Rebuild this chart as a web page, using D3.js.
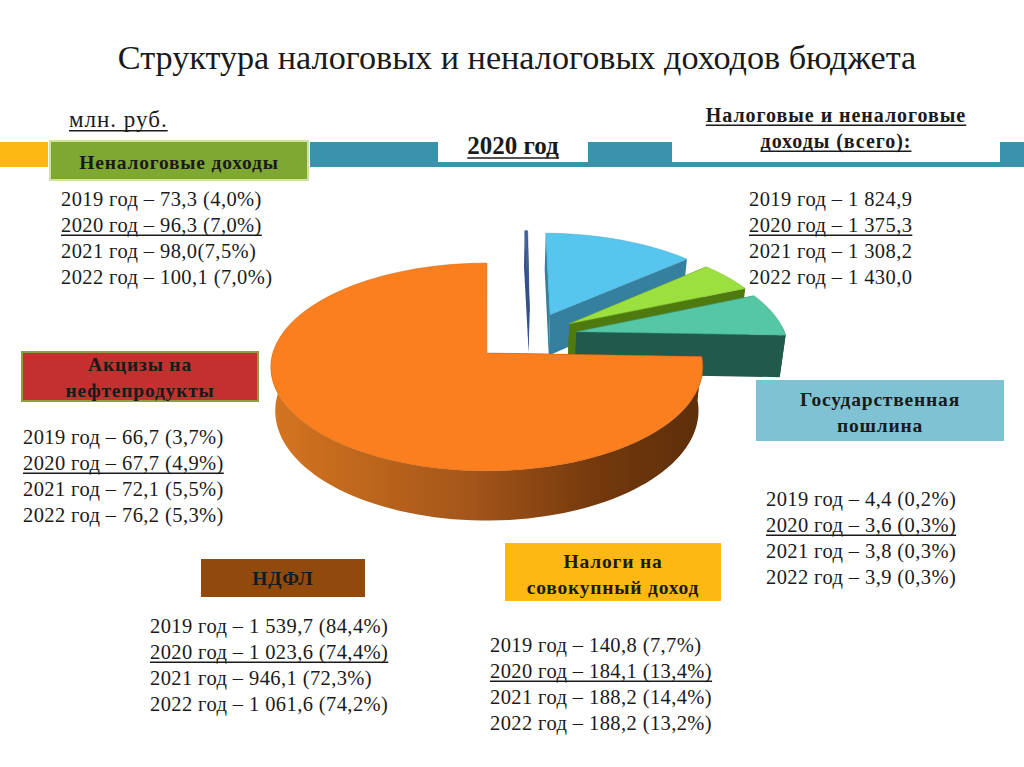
<!DOCTYPE html>
<html>
<head>
<meta charset="utf-8">
<script src="https://cdn.jsdelivr.net/npm/d3@7"></script>
<style>
  html, body { margin: 0; padding: 0; background: #fff; }
  text { font-family: "Liberation Serif", serif; fill: #1a1a1a; }
</style>
</head>
<body>
<svg id="chart" width="1024" height="767"></svg>
<script>
// 2020 values, in the order the slices go round the pie
const sliceNames = ["НДФЛ", "Государственная пошлина", "Налоги на совокупный доход", "Акцизы", "Неналоговые доходы"];
const slice2020 = [1023.6, 3.6, 184.1, 67.7, 96.3];

const linesNenalog = ["2019 год – 73,3 (4,0%)", "2020 год – 96,3 (7,0%)", "2021 год – 98,0(7,5%)", "2022 год – 100,1 (7,0%)"];
const linesTotal = ["2019 год – 1 824,9", "2020 год – 1 375,3", "2021 год – 1 308,2", "2022 год – 1 430,0"];
const linesAkciz = ["2019 год – 66,7 (3,7%)", "2020 год – 67,7 (4,9%)", "2021 год – 72,1 (5,5%)", "2022 год – 76,2 (5,3%)"];
const linesPoshlina = ["2019 год – 4,4 (0,2%)", "2020 год – 3,6 (0,3%)", "2021 год – 3,8 (0,3%)", "2022 год – 3,9 (0,3%)"];
const linesNdfl = ["2019 год – 1 539,7 (84,4%)", "2020 год – 1 023,6 (74,4%)", "2021 год – 946,1 (72,3%)", "2022 год – 1 061,6 (74,2%)"];
const linesSovok = ["2019 год – 140,8 (7,7%)", "2020 год – 184,1 (13,4%)", "2021 год – 188,2 (14,4%)", "2022 год – 188,2 (13,2%)"];

// pie look
const topColors = ["#fb7f1f", "#3e5fa0", "#57c6ef", "#9be03f", "#55c7a5"];
const wallColors = ["#8a4a12", "#34508c", "#357f9f", "#4f7a10", "#1f5a4a"];
const explodeU = [-0.01, 0.2, 0.3, 0.39, 0.42];
const explodeV = [0, 0.43, 0.395, 0.298, 0.214];
const pieCam = { cx: 489, cy: 353, rx: 214, ry: 102, k: 0.1345, depth: 43, taper: 0.02 };

const svg = d3.select("#chart");
const defs = svg.append("defs");

function project(u, v, low) {
    const s = 1 / (1 + pieCam.k * v);
    const t = low ? 1 - pieCam.taper : 1;
    return [
        pieCam.cx + pieCam.rx * u * s * t,
        pieCam.cy - pieCam.ry * v * s + (low ? pieCam.depth * s : 0)
    ];
}

const line = d3.line();

function drawBands() {
    const bands = [
        { x: 0, y: 142, w: 48, h: 25, fill: "#fdb813" },
        { x: 310, y: 142, w: 714, h: 25, fill: "#3a93ab" },
        { x: 438, y: 136, w: 150, h: 26, fill: "#fff" },
        { x: 672, y: 136, w: 328, h: 26, fill: "#fff" }
    ];
    svg.selectAll("rect.band").data(bands).join("rect")
        .attr("class", "band")
        .attr("x", d => d.x).attr("y", d => d.y)
        .attr("width", d => d.w).attr("height", d => d.h)
        .attr("fill", d => d.fill);
}

function drawPie() {
    const arcs = d3.pie().sort(null).startAngle(92 * Math.PI / 180).endAngle((92 + 360) * Math.PI / 180)(slice2020);

    // horizontal shading for the big slice's rim
    const grad = defs.append("linearGradient").attr("id", "rimShade")
        .attr("gradientUnits", "userSpaceOnUse")
        .attr("x1", project(-1, 0)[0]).attr("x2", project(1, 0)[0])
        .attr("y1", 0).attr("y2", 0);
    [["0%", "#d4741f"], ["45%", "#a4561a"], ["75%", "#74390d"], ["100%", "#5c2f0a"]].forEach(s =>
        grad.append("stop").attr("offset", s[0]).attr("stop-color", s[1]));

    // back slices first, the orange one goes on top
    const order = [1, 2, 3, 4, 0];
    order.forEach(i => {
        const a = arcs[i];
        const g = svg.append("g").attr("class", "slice").attr("data-name", sliceNames[i]);
        const ou = explodeU[i], ov = explodeV[i];
        const rimPoint = (ang, low) => project(ou + Math.sin(ang), ov + Math.cos(ang), low);
        const steps = d3.range(0, 121).map(n => a.startAngle + (a.endAngle - a.startAngle) * n / 120);

        // radial walls
        [a.startAngle, a.endAngle].forEach(ang => {
            g.append("path")
                .attr("d", line([project(ou, ov), rimPoint(ang), rimPoint(ang, true), project(ou, ov, true)]) + "Z")
                .attr("fill", wallColors[i]);
        });

        // outer rim where it faces the viewer
        const front = steps.filter(ang => Math.cos(ang) < 0.05);
        if (front.length > 1) {
            const pts = front.map(ang => rimPoint(ang)).concat(front.slice().reverse().map(ang => rimPoint(ang, true)));
            g.append("path").attr("d", line(pts) + "Z")
                .attr("fill", i === 0 ? "url(#rimShade)" : wallColors[i]);
        }

        // top face
        const face = [project(ou, ov)].concat(steps.map(ang => rimPoint(ang)));
        g.append("path").attr("d", line(face) + "Z").attr("fill", topColors[i])
            .attr("stroke", d3.color(topColors[i]).darker(0.6)).attr("stroke-width", 0.5);
    });
}

// solid underline: browser one skips the descenders
function underline(sel) {
    sel.each(function () {
        const b = this.getBBox();
        const size = +this.getAttribute("font-size");
        const y = +this.getAttribute("y") + size * 0.16;
        svg.append("line")
            .attr("x1", b.x).attr("x2", b.x + b.width)
            .attr("y1", y).attr("y2", y)
            .attr("stroke", "#1a1a1a").attr("stroke-width", 1.4);
    });
}

function drawLabelBox(box) {
    svg.append("rect")
        .attr("x", box.x).attr("y", box.y).attr("width", box.w).attr("height", box.h)
        .attr("fill", box.fill)
        .attr("stroke", box.stroke || "none").attr("stroke-width", box.stroke ? 2 : 0);
    box.text.forEach((t, i) => {
        svg.append("text")
            .attr("x", box.x + box.w / 2)
            .attr("y", box.first + i * 25.5)
            .attr("text-anchor", "middle")
            .attr("font-size", 19.5).attr("font-weight", "bold")
            .attr("letter-spacing", 0.8)
            .text(t);
    });
}

function drawLines(lines, x, y) {
    const texts = svg.selectAll(null).data(lines).join("text")
        .attr("x", x)
        .attr("y", (_, i) => y + i * 26)
        .attr("font-size", 20.5)
        .attr("letter-spacing", 0.4)
        .text(d => d);
    underline(texts.filter((_, i) => i === 1));
}

drawBands();
drawPie();

svg.append("text").attr("x", 517).attr("y", 69).attr("text-anchor", "middle")
    .attr("font-size", 34.2).text("Структура налоговых и неналоговых доходов бюджета");

underline(svg.append("text").attr("x", 69).attr("y", 127).attr("font-size", 23)
    .attr("letter-spacing", 1).text("млн. руб."));

underline(svg.append("text").attr("x", 513).attr("y", 154).attr("text-anchor", "middle")
    .attr("font-size", 25).attr("font-weight", "bold").text("2020 год"));

["Налоговые и неналоговые", "доходы (всего):"].forEach((t, i) => {
    underline(svg.append("text").attr("x", 836).attr("y", 122 + i * 26).attr("text-anchor", "middle")
        .attr("font-size", 20).attr("font-weight", "bold").attr("letter-spacing", 0.95)
        .text(t));
});

drawLabelBox({ x: 50, y: 141, w: 258, h: 39, fill: "#7fa833", stroke: "#cfe0a8", text: ["Неналоговые доходы"], first: 169 });
drawLabelBox({ x: 22, y: 352, w: 236, h: 49, fill: "#c3302f", stroke: "#8f9c3f", text: ["Акцизы на", "нефтепродукты"], first: 371 });
drawLabelBox({ x: 756, y: 380, w: 248, h: 61, fill: "#7fc2d3", text: ["Государственная", "пошлина"], first: 406 });
drawLabelBox({ x: 201, y: 559, w: 164, h: 38, fill: "#914a0c", text: ["НДФЛ"], first: 585 });
drawLabelBox({ x: 505, y: 543, w: 216, h: 58, fill: "#fdb813", text: ["Налоги на", "совокупный доход"], first: 568 });

drawLines(linesNenalog, 61, 206);
drawLines(linesTotal, 749, 206);
drawLines(linesAkciz, 23, 444);
drawLines(linesPoshlina, 766, 506);
drawLines(linesNdfl, 150, 633);
drawLines(linesSovok, 490, 652);
</script>
</body>
</html>
